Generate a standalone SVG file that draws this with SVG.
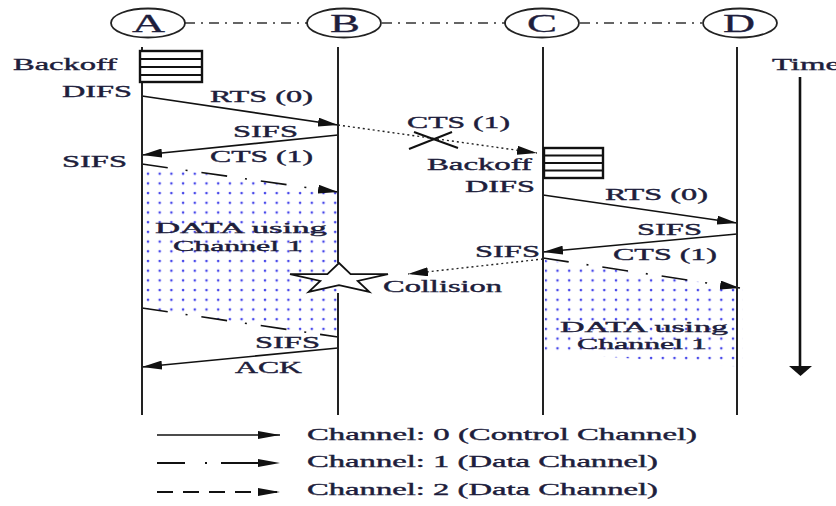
<svg xmlns="http://www.w3.org/2000/svg" width="836" height="506" viewBox="0 0 836 506">
<style>
text{font-family:"Liberation Serif","Times New Roman",serif;font-size:17px;fill:#1e1e3c;stroke:#1e1e3c;stroke-width:0.4}
.nl{font-size:25px;stroke-width:0.3}
.dt{font-size:15px}
.life{stroke:#222;stroke-width:2;fill:none}
.node{fill:#fff;stroke:#222;stroke-width:1.8}
.solid{stroke:#111;stroke-width:1.6;fill:none}
.dd{stroke:#111;stroke-width:1.6;fill:none;stroke-dasharray:26 18 2 14}
.dot{stroke:#222;stroke-width:1.4;fill:none;stroke-dasharray:2 3}
.top{stroke:#333;stroke-width:1.4;fill:none;stroke-dasharray:10 6 2 6}
.box{fill:#fff;stroke:#111;stroke-width:2.4}
.bl{stroke:#111;stroke-width:2}
</style>
<defs>
<marker id="ah" viewBox="0 0 20 9" refX="20" refY="4.5" markerWidth="20" markerHeight="9" markerUnits="userSpaceOnUse" orient="auto">
<path d="M0,0 L20,4.5 L0,9 z" fill="#111"/>
</marker>
<marker id="ahL" viewBox="0 0 22 8" refX="22" refY="4" markerWidth="22" markerHeight="8" markerUnits="userSpaceOnUse" orient="auto">
<path d="M0,0 L22,4 L0,8 z" fill="#111"/>
</marker>
<pattern id="dots" patternUnits="userSpaceOnUse" x="146" y="162" width="11.7" height="9.7">
<circle cx="2" cy="2" r="1.3" fill="#4848ea"/>
</pattern>
</defs>

<!-- data regions -->
<polygon points="143,165 338,192 338,337 143,308" fill="url(#dots)"/>
<polygon points="545,260 743,288 743,367 545,352" fill="url(#dots)"/>

<g id="connectors">
<line class="top" x1="185" y1="23" x2="307" y2="23"/>
<line class="top" x1="382" y1="23" x2="505" y2="23"/>
<line class="top" x1="580" y1="23" x2="702" y2="23"/>
<line class="solid" x1="142" y1="96" x2="338" y2="125" marker-end="url(#ah)"/>
<line class="solid" x1="338" y1="135" x2="142" y2="155" marker-end="url(#ah)"/>
<line class="dot" x1="338" y1="125" x2="537" y2="153" marker-end="url(#ah)"/>
<line class="dd" x1="142" y1="164" x2="338" y2="192" marker-end="url(#ah)"/>
<line class="dd" x1="142" y1="308" x2="338" y2="337"/>
<line class="solid" x1="338" y1="348" x2="142" y2="367" marker-end="url(#ah)"/>
<line class="solid" x1="543" y1="195" x2="737" y2="223" marker-end="url(#ah)"/>
<line class="solid" x1="737" y1="234" x2="543" y2="252" marker-end="url(#ah)"/>
<line class="dd" x1="543" y1="258" x2="740" y2="288" marker-end="url(#ah)"/>
<line class="dot" x1="543" y1="259" x2="408" y2="274" marker-end="url(#ah)"/>
</g>

<g id="node-A">
<line class="life" x1="142" y1="47" x2="142" y2="415"/>
<ellipse class="node" cx="148" cy="23" rx="37" ry="14.5"/>
<text class="nl" x="132" y="32" textLength="33" lengthAdjust="spacingAndGlyphs">A</text>
</g>
<g id="node-B">
<line class="life" x1="338" y1="47" x2="338" y2="263"/>
<line class="life" x1="338" y1="293" x2="338" y2="415"/>
<ellipse class="node" cx="344" cy="23" rx="37" ry="14.5"/>
<text class="nl" x="330" y="32" textLength="30" lengthAdjust="spacingAndGlyphs">B</text>
</g>
<g id="node-C">
<line class="life" x1="543" y1="47" x2="543" y2="415"/>
<ellipse class="node" cx="542" cy="23" rx="37" ry="14.5"/>
<text class="nl" x="527" y="32" textLength="30" lengthAdjust="spacingAndGlyphs">C</text>
</g>
<g id="node-D">
<line class="life" x1="737" y1="47" x2="737" y2="415"/>
<ellipse class="node" cx="740" cy="23" rx="37" ry="14.5"/>
<text class="nl" x="723" y="32" textLength="32" lengthAdjust="spacingAndGlyphs">D</text>
</g>

<g id="backoff-A">
<rect class="box" x="140" y="51" width="62" height="31"/>
<line class="bl" x1="140" y1="59" x2="202" y2="59"/>
<line class="bl" x1="140" y1="67" x2="202" y2="67"/>
<line class="bl" x1="140" y1="75" x2="202" y2="75"/>
</g>
<g id="backoff-C">
<rect class="box" x="544" y="148" width="59" height="30"/>
<line class="bl" x1="544" y1="155.5" x2="603" y2="155.5"/>
<line class="bl" x1="544" y1="163" x2="603" y2="163"/>
<line class="bl" x1="544" y1="170.5" x2="603" y2="170.5"/>
</g>

<g id="collision">
<polygon points="339,263 350.6,274.1 388,274.1 357.7,280.9 369.3,291.9 339,285.1 308.7,291.9 320.3,280.9 290,274.1 327.4,274.1" fill="#fff" stroke="#111" stroke-width="1.8" stroke-linejoin="miter"/>
<text x="383" y="292" textLength="119" lengthAdjust="spacingAndGlyphs">Collision</text>
</g>

<g id="cross">
<line x1="409" y1="149" x2="452" y2="132" stroke="#111" stroke-width="2"/>
<line x1="414" y1="132" x2="458" y2="148" stroke="#111" stroke-width="2"/>
</g>

<g id="labels">
<text x="13" y="70" textLength="104" lengthAdjust="spacingAndGlyphs">Backoff</text>
<text x="62" y="97" textLength="70" lengthAdjust="spacingAndGlyphs">DIFS</text>
<text x="210" y="102" textLength="103" lengthAdjust="spacingAndGlyphs">RTS (0)</text>
<text x="233" y="137" textLength="65" lengthAdjust="spacingAndGlyphs">SIFS</text>
<text x="210" y="162" textLength="103" lengthAdjust="spacingAndGlyphs">CTS (1)</text>
<text x="62" y="167" textLength="65" lengthAdjust="spacingAndGlyphs">SIFS</text>
<text x="407" y="128" textLength="103" lengthAdjust="spacingAndGlyphs">CTS (1)</text>
<text x="427" y="170" textLength="105" lengthAdjust="spacingAndGlyphs">Backoff</text>
<text x="465" y="192" textLength="70" lengthAdjust="spacingAndGlyphs">DIFS</text>
<text x="605" y="200" textLength="103" lengthAdjust="spacingAndGlyphs">RTS (0)</text>
<text x="637" y="235" textLength="65" lengthAdjust="spacingAndGlyphs">SIFS</text>
<text x="613" y="260" textLength="104" lengthAdjust="spacingAndGlyphs">CTS (1)</text>
<text x="475" y="257" textLength="65" lengthAdjust="spacingAndGlyphs">SIFS</text>
<text class="dt" x="155" y="233" textLength="172" lengthAdjust="spacingAndGlyphs">DATA using</text>
<text class="dt" x="173" y="251" textLength="130" lengthAdjust="spacingAndGlyphs">Channel 1</text>
<text x="255" y="348" textLength="65" lengthAdjust="spacingAndGlyphs">SIFS</text>
<text x="235" y="373" textLength="67" lengthAdjust="spacingAndGlyphs">ACK</text>
<text class="dt" x="560" y="332" textLength="168" lengthAdjust="spacingAndGlyphs">DATA using</text>
<text class="dt" x="577" y="349" textLength="130" lengthAdjust="spacingAndGlyphs">Channel 1</text>
</g>

<g id="time">
<text x="772" y="70" textLength="68" lengthAdjust="spacingAndGlyphs">Time</text>
<line x1="800" y1="77" x2="800" y2="368" stroke="#111" stroke-width="2.6"/>
<path d="M789,366 L812,366 L800.5,376 z" fill="#111"/>
</g>

<g id="legend">
<line class="solid" x1="157" y1="435" x2="280" y2="435" marker-end="url(#ahL)" stroke-width="1.8"/>
<line x1="157" y1="463" x2="280" y2="463" stroke="#111" stroke-width="1.8" stroke-dasharray="28 20 2 14 40" marker-end="url(#ahL)"/>
<line x1="157" y1="492" x2="280" y2="492" stroke="#111" stroke-width="1.8" stroke-dasharray="16 10" marker-end="url(#ahL)"/>
<text x="307" y="440" textLength="390" lengthAdjust="spacingAndGlyphs">Channel: 0 (Control Channel)</text>
<text x="307" y="467" textLength="351" lengthAdjust="spacingAndGlyphs">Channel: 1 (Data Channel)</text>
<text x="307" y="495" textLength="351" lengthAdjust="spacingAndGlyphs">Channel: 2 (Data Channel)</text>
</g>
</svg>
